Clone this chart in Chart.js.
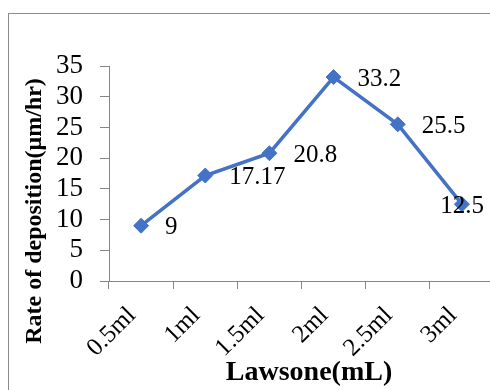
<!DOCTYPE html>
<html>
<head>
<meta charset="utf-8">
<script src="https://cdn.jsdelivr.net/npm/chart.js@4.4.1/dist/chart.umd.min.js"></script>
<style>
  html, body { margin: 0; padding: 0; background: #fff; overflow: hidden; }
  #wrap { position: relative; width: 490px; height: 390px; overflow: hidden; }
  #frame { position: absolute; left: 8px; top: 13px; width: 600px; height: 600px; border: 1px solid #8c8c8c; }
  #rateChart { position: absolute; left: 0; top: 0; }
</style>
</head>
<body>
<div id="wrap">
  <div id="frame"></div>
  <canvas id="rateChart" width="510" height="390"></canvas>
</div>
<script>
const doses = ['0.5ml', '1ml', '1.5ml', '2ml', '2.5ml', '3ml'];
const depositionRate = [9, 17.17, 20.8, 33.2, 25.5, 12.5];
const rateMin = 0;
const rateMax = 35;
const rateStep = 5;
const xTitle = 'Lawsone(mL)';
const yTitle = 'Rate of deposition(\u03bcm/hr)';

const serif = '"Liberation Serif", "Times New Roman", serif';
const axisGray = '#868686';
const lineBlue = '#4472C4';

// value labels to the right of each point, pushed back inside at the right edge
const valueLabels = {
  id: 'valueLabels',
  afterDatasetsDraw(chart) {
    const ctx = chart.ctx;
    const meta = chart.getDatasetMeta(0);
    ctx.save();
    ctx.font = '25px ' + serif;
    ctx.fillStyle = '#000';
    ctx.textBaseline = 'middle';
    ctx.textAlign = 'left';
    meta.data.forEach((pt, i) => {
      const txt = String(depositionRate[i]);
      const w = ctx.measureText(txt).width;
      let x = pt.x + 24;
      if (x + w > 484) x = 484 - w;
      ctx.fillText(txt, x, pt.y + 2);
    });
    ctx.restore();
  }
};

// axis titles, placed like the original
const axisTitles = {
  id: 'axisTitles',
  afterDraw(chart) {
    const ctx = chart.ctx;
    ctx.save();
    ctx.fillStyle = '#000';
    ctx.font = 'bold 28px ' + serif;
    ctx.textAlign = 'center';
    ctx.textBaseline = 'alphabetic';
    ctx.fillText(xTitle, 309, 380);
    ctx.translate(35, 211);
    ctx.rotate(-Math.PI / 2);
    ctx.font = 'bold 24px ' + serif;
    ctx.textBaseline = 'middle';
    ctx.fillText(yTitle, 0, 0);
    ctx.restore();
  }
};

const ctx = document.getElementById('rateChart').getContext('2d');
const rateChart = new Chart(ctx, {
  type: 'line',
  data: {
    labels: doses,
    datasets: [{
      label: 'Rate of deposition',
      data: depositionRate,
      borderColor: lineBlue,
      backgroundColor: lineBlue,
      borderWidth: 3.5,
      pointStyle: 'rectRot',
      pointRadius: 7.5,
      pointBorderWidth: 1,
      pointBackgroundColor: lineBlue,
      pointBorderColor: lineBlue,
      tension: 0,
      fill: false
    }]
  },
  options: {
    responsive: false,
    animation: false,
    devicePixelRatio: 1,
    layout: { padding: { top: 66, right: 16, bottom: 0, left: 0 } },
    plugins: {
      legend: { display: false },
      tooltip: { enabled: false }
    },
    scales: {
      x: {
        type: 'category',
        offset: true,
        afterFit(scale) { scale.height = 109; },
        grid: { offset: true, drawOnChartArea: false, tickLength: 8, color: axisGray },
        border: { color: axisGray, width: 1 },
        ticks: {
          color: '#000',
          font: { family: serif, size: 25 },
          minRotation: 45,
          maxRotation: 45,
          labelOffset: -9,
          padding: 12,
          autoSkip: false
        }
      },
      y: {
        min: rateMin,
        max: rateMax,
        afterFit(scale) { scale.width = 109; },
        grid: { drawOnChartArea: false, tickLength: 9, color: axisGray },
        border: { color: axisGray, width: 1 },
        ticks: {
          stepSize: rateStep,
          autoSkip: false,
          color: '#000',
          font: { family: serif, size: 27 },
          padding: 17
        }
      }
    }
  },
  plugins: [valueLabels, axisTitles]
});
</script>
</body>
</html>
